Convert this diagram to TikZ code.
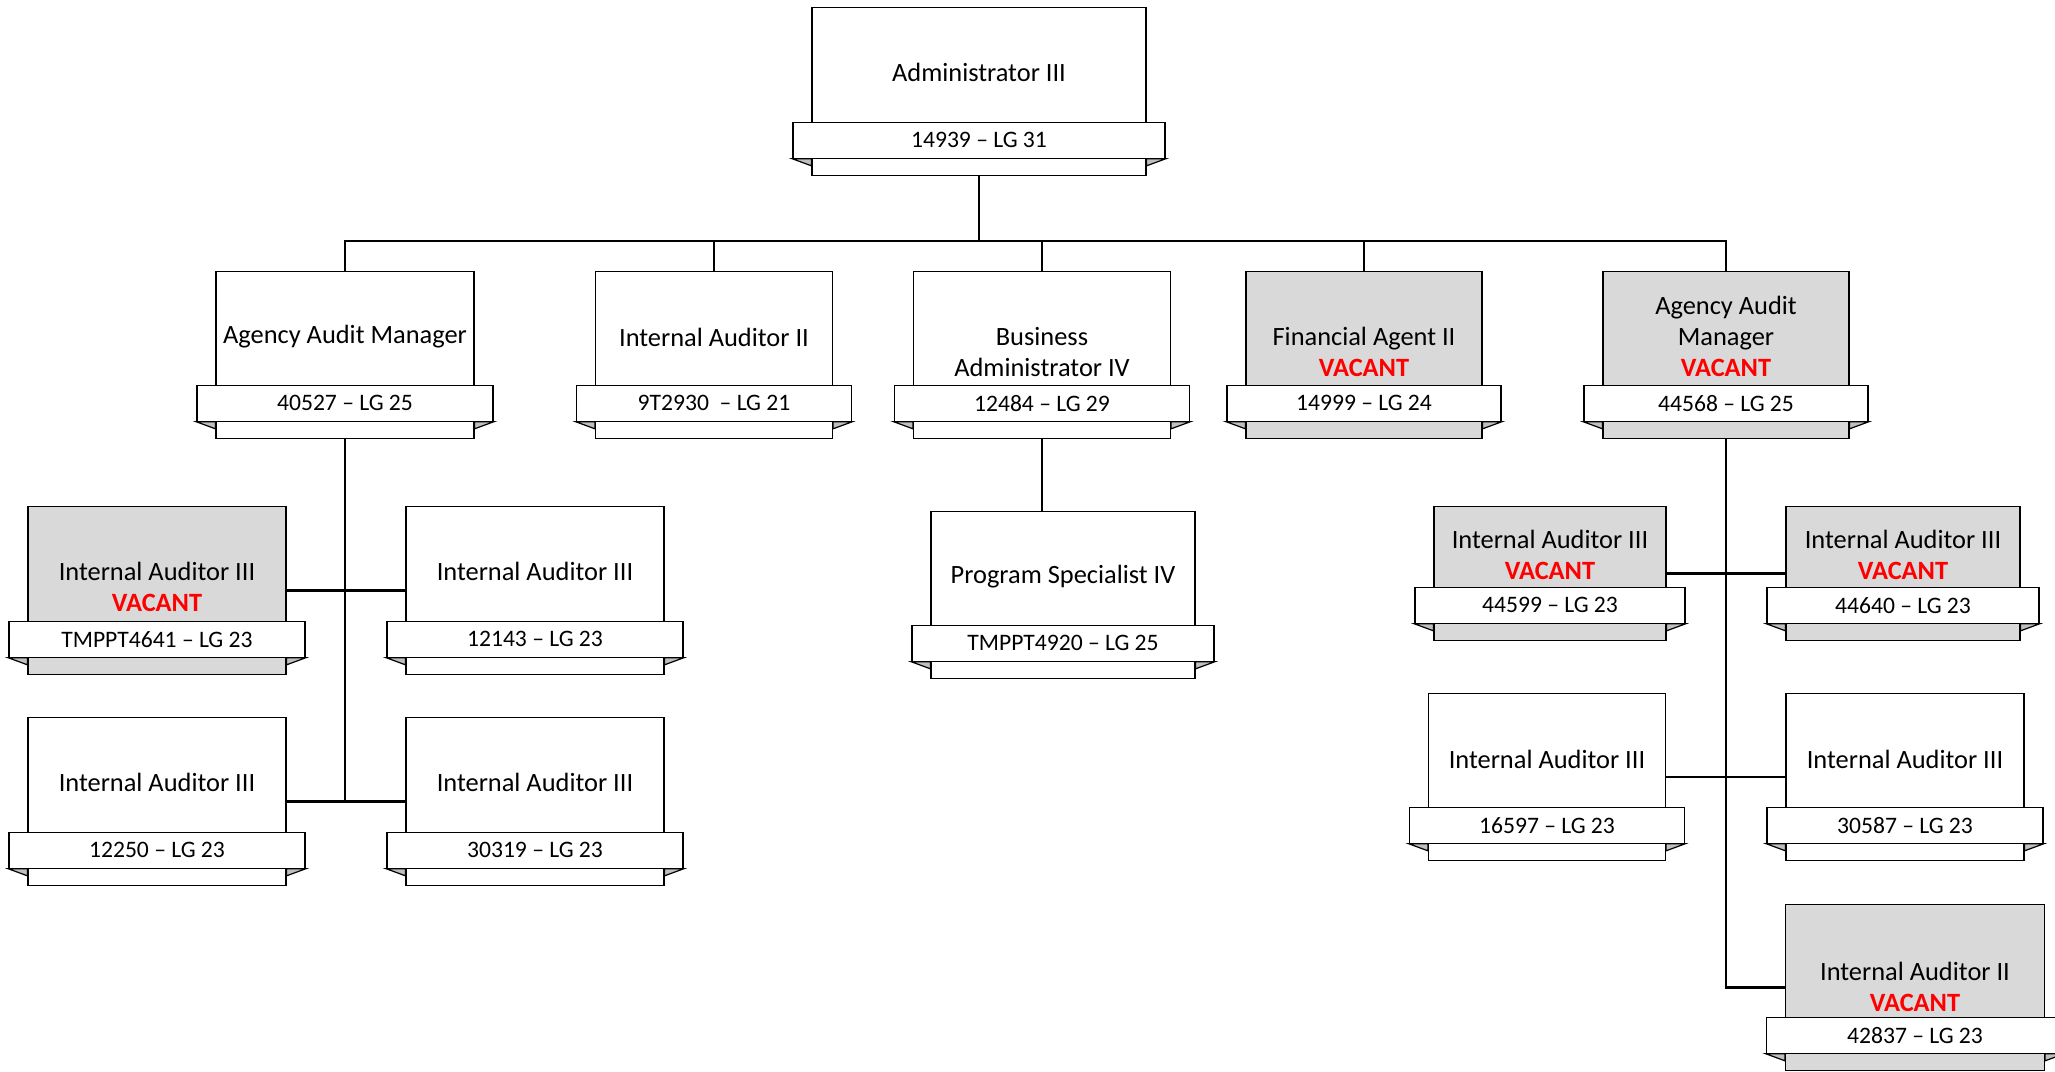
\documentclass[tikz,border=0pt]{standalone}
\usepackage{fontspec}
\setmainfont{Carlito}
\usetikzlibrary{positioning}

\definecolor{vacantgray}{HTML}{D9D9D9}
\definecolor{foldgray}{HTML}{BFBFBF}
\definecolor{vacantred}{HTML}{FF0000}

\tikzset{
  post/.style={draw, line width=0.6pt, inner sep=0pt},
  banner/.style={draw, fill=white, line width=0.6pt, inner sep=0pt, minimum height=18pt,
    font=\fontsize{11.8}{14}\selectfont},
  title/.style={align=center, inner sep=0pt, font=\fontsize{13.2}{15.5}\selectfont},
  fold/.style={draw, fill=foldgray, line width=0.6pt},
  link/.style={draw, line width=1.2pt},
}
\newcommand{\vacant}{\textcolor{vacantred}{\textbf{VACANT}}}

% #1 fill, #2 name, #3 x, #4 top, #5 width, #6 height, #7 title y, #8 title, #9 number
\newcommand{\post}[9][white]{%
  \node[post, fill=#1, anchor=north, minimum width=#5*0.5pt, minimum height=#6*0.5pt] (#2) at (#3,#4) {};
  \node[title] (#2-t) at (#3,#7) {#8};
  \node[banner, minimum width=(#5+38)*0.5pt] (#2-id) at ([yshift=18pt]#2.south) {#9};
  \filldraw[fold] (#2-id.south west) -- ++(9.5pt,0) -- ++(0,-3.5pt) -- cycle;
  \filldraw[fold] (#2-id.south east) -- ++(-9.5pt,0) -- ++(0,-3.5pt) -- cycle;
}

\begin{document}
\begin{tikzpicture}[x=0.5pt, y=-0.5pt]
  \useasboundingbox (0,0) rectangle (2055,1071);

  % top
  \post{admin}{979}{7}{334}{168}{72}{Administrator III}{14939 -- LG 31}

  % second row
  \post{aam}{345}{271}{258}{167}{337}{Agency Audit Manager}{40527 -- LG 25}
  \post{ia2}{714}{271}{237}{167}{337}{Internal Auditor II}{9T2930 \ -- LG 21}
  \post{ba}{1042}{271}{257}{167}{352}{Business\\Administrator IV}{12484 -- LG 29}
  \post[vacantgray]{fa}{1364}{271}{236}{167}{352}{Financial Agent II\\\vacant}{14999 -- LG 24}
  \post[vacantgray]{aam2}{1726}{271}{246}{167}{336}{Agency Audit\\Manager\\\vacant}{44568 -- LG 25}

  % under agency audit manager (left)
  \post[vacantgray]{ia3a}{157}{506}{258}{168}{587}{Internal Auditor III\\\vacant}{TMPPT4641 -- LG 23}
  \post{ia3b}{535}{506}{258}{168}{571}{Internal Auditor III}{12143 -- LG 23}
  \post{ia3c}{157}{717}{258}{168}{782}{Internal Auditor III}{12250 -- LG 23}
  \post{ia3d}{535}{717}{258}{168}{782}{Internal Auditor III}{30319 -- LG 23}

  % under business administrator
  \post{ps}{1063}{511}{264}{167}{577}{Program Specialist IV}{TMPPT4920 -- LG 25}

  % under agency audit manager (right)
  \post[vacantgray]{ia3e}{1550}{506}{232}{134}{555}{Internal Auditor III\\\vacant}{44599 -- LG 23}
  \post[vacantgray]{ia3f}{1903}{506}{234}{134}{555}{Internal Auditor III\\\vacant}{44640 -- LG 23}
  \post{ia3g}{1547}{693}{237}{167}{759}{Internal Auditor III}{16597 -- LG 23}
  \post{ia3h}{1905}{693}{238}{167}{759}{Internal Auditor III}{30587 -- LG 23}
  \post[vacantgray]{ia2v}{1915}{904}{259}{166}{987}{Internal Auditor II\\\vacant}{42837 -- LG 23}

  % connectors
  \coordinate (bus) at (979,241);
  \draw[link] (admin.south) -- (bus);
  \draw[link] (aam.north) |- (bus) -| (aam2.north);
  \foreach \n in {ia2, ba, fa}
    \draw[link] (\n.north) -- (\n.north |- bus);

  \draw[link] (aam.south) -- (aam.south |- ia3c.east);
  \draw[link] (ia3a.east) -- (ia3b.west);
  \draw[link] (ia3c.east) -- (ia3d.west);

  \draw[link] (ba.south) -- (ba.south |- ps.north);

  \draw[link] (aam2.south) |- (ia2v.west);
  \draw[link] (ia3e.east) -- (ia3f.west);
  \draw[link] (ia3g.east) -- (ia3h.west);
\end{tikzpicture}
\end{document}
